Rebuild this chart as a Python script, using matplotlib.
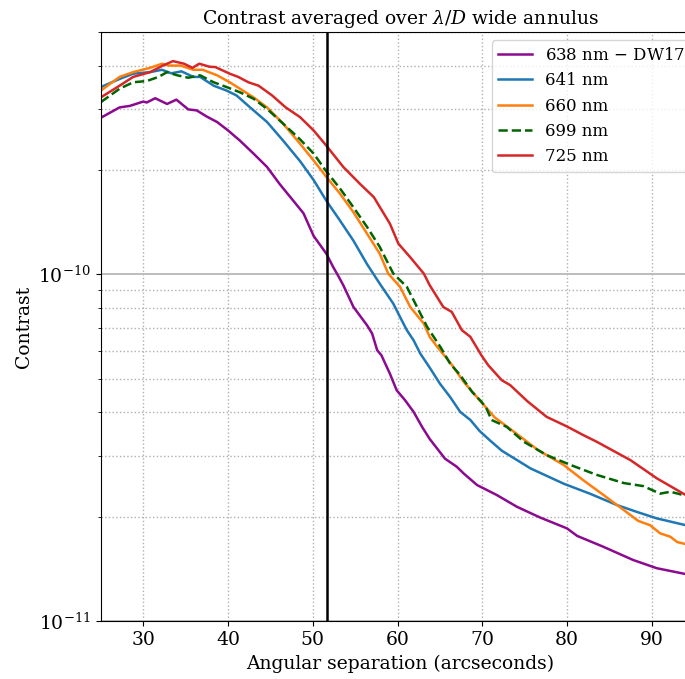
import matplotlib
matplotlib.use("Agg")
import matplotlib.pyplot as plt
import numpy as np

plt.rcParams['font.family'] = ['DejaVu Serif']
plt.rcParams['mathtext.fontset'] = 'dejavuserif'

# contrast curves (separation in arcsec, contrast in units of 1e-10)
sep_638 = [25.0, 27.2, 28.4, 30.0, 30.4, 31.4, 32.8, 33.9, 35.3, 36.3, 37.5, 38.7, 40.0,
           41.4, 43.0, 44.6, 46.1, 47.7, 48.9, 50.1, 51.6, 52.4, 53.0, 53.6, 54.8, 56.4,
           57.0, 57.6, 58.1, 59.1, 59.9, 60.9, 61.9, 62.9, 63.8, 65.6, 67.0, 67.8, 69.4,
           71.7, 74.1, 76.8, 80.0, 81.2, 84.3, 87.8, 90.6, 94.0]
con_638 = [2.83, 3.03, 3.06, 3.15, 3.13, 3.22, 3.10, 3.19, 2.99, 2.97, 2.85, 2.75, 2.60,
           2.43, 2.23, 2.04, 1.82, 1.63, 1.50, 1.29, 1.147, 1.05, 0.99, 0.93, 0.805, 0.713,
           0.675, 0.604, 0.584, 0.517, 0.463, 0.433, 0.401, 0.363, 0.335, 0.294, 0.2785,
           0.2665, 0.2466, 0.231, 0.2135, 0.199, 0.185, 0.176, 0.1637, 0.150, 0.142, 0.1366]

sep_641 = [25.0, 27.2, 28.8, 30.8, 32.2, 33.3, 34.5, 35.9, 36.7, 38.3, 39.8, 41.0, 42.6,
           44.6, 46.5, 48.5, 50.1, 51.6, 53.2, 54.8, 56.4, 57.9, 59.5, 60.3, 61.1, 61.9,
           62.7, 63.8, 65.0, 66.2, 67.4, 68.6, 69.7, 70.9, 72.3, 75.7, 79.6, 82.7, 85.9,
           88.2, 90.6, 94.0]
con_641 = [3.47, 3.66, 3.79, 3.83, 3.89, 3.80, 3.85, 3.71, 3.71, 3.50, 3.39, 3.28, 3.03,
           2.75, 2.43, 2.12, 1.87, 1.63, 1.43, 1.25, 1.07, 0.94, 0.823, 0.753, 0.69, 0.645,
           0.59, 0.538, 0.484, 0.443, 0.401, 0.38, 0.353, 0.332, 0.31, 0.2755, 0.249, 0.233,
           0.216, 0.2066, 0.1977, 0.189]

sep_660 = [25.0, 27.2, 28.8, 30.8, 32.2, 33.0, 34.4, 35.9, 37.0, 38.7, 40.2, 41.4, 43.0,
           44.6, 46.5, 48.5, 50.1, 51.6, 53.2, 54.8, 56.4, 57.9, 58.9, 60.3, 61.5, 63.1,
           63.8, 64.7, 66.3, 67.8, 69.7, 71.5, 73.5, 76.6, 79.6, 81.9, 84.3, 86.7, 88.4,
           89.8, 91.0, 92.2, 93.0, 94.0]
con_660 = [3.39, 3.71, 3.83, 3.94, 4.05, 4.00, 4.00, 3.89, 3.89, 3.75, 3.58, 3.43, 3.24,
           3.03, 2.72, 2.38, 2.13, 1.91, 1.71, 1.51, 1.31, 1.147, 1.005, 0.92, 0.805, 0.721,
           0.66, 0.617, 0.553, 0.49, 0.433, 0.386, 0.355, 0.311, 0.282, 0.255, 0.231, 0.209,
           0.1945, 0.189, 0.179, 0.175, 0.169, 0.1667]

sep_699 = [25.0, 27.2, 28.8, 30.4, 31.8, 32.8, 34.0, 35.3, 36.7, 38.3, 39.8, 41.4, 43.0,
           44.6, 46.5, 48.5, 50.1, 51.6, 53.2, 54.8, 56.4, 57.9, 59.5, 61.1, 62.3, 63.5,
           65.1, 66.2, 67.4, 68.8, 69.9, 70.5, 71.1, 72.9, 74.9, 77.6, 80.4, 83.5, 86.7,
           89.0, 91.0, 92.2, 94.0]
con_699 = [3.14, 3.43, 3.58, 3.61, 3.71, 3.83, 3.75, 3.69, 3.75, 3.58, 3.47, 3.35, 3.21,
           3.00, 2.72, 2.45, 2.23, 1.98, 1.77, 1.56, 1.37, 1.20, 1.005, 0.92, 0.805, 0.705,
           0.615, 0.553, 0.512, 0.458, 0.429, 0.41, 0.38, 0.363, 0.329, 0.301, 0.282, 0.264,
           0.250, 0.245, 0.233, 0.236, 0.230]

sep_725 = [25.0, 27.2, 28.8, 30.8, 32.3, 33.5, 34.8, 35.8, 36.6, 37.8, 38.5, 40.2, 41.2,
           42.4, 43.6, 45.2, 46.8, 48.5, 50.1, 51.6, 53.6, 55.6, 57.2, 59.1, 60.1, 61.5,
           63.1, 63.8, 65.4, 66.4, 67.6, 68.6, 69.9, 70.7, 72.3, 73.3, 75.3, 77.6, 80.0,
           81.9, 83.5, 87.5, 90.6, 94.0]
con_725 = [3.24, 3.50, 3.71, 3.83, 4.00, 4.12, 4.05, 3.94, 4.05, 3.97, 3.96, 3.79, 3.71,
           3.58, 3.50, 3.28, 3.03, 2.84, 2.60, 2.35, 2.04, 1.82, 1.67, 1.40, 1.226, 1.12,
           1.005, 0.93, 0.805, 0.779, 0.69, 0.66, 0.584, 0.547, 0.495, 0.479, 0.431, 0.388,
           0.364, 0.344, 0.329, 0.291, 0.258, 0.231]

labels = ['638 nm $-$ DW17', '641 nm', '660 nm', '699 nm', '725 nm']
iwa_sep = 51.7


fig = plt.figure(figsize=(6.85, 6.79), dpi=100)
# axes runs a bit past the right edge of the picture, as in the reference
ax = fig.add_axes([0.1474, 0.0854, 0.8745, 0.8675])

lw = 1.8
ax.plot(sep_638, np.array(con_638) * 1e-10, color='#8b0a8f', lw=lw, label=labels[0])
ax.plot(sep_641, np.array(con_641) * 1e-10, color='tab:blue', lw=lw, label=labels[1])
ax.plot(sep_660, np.array(con_660) * 1e-10, color='tab:orange', lw=lw, label=labels[2])
ax.plot(sep_699, np.array(con_699) * 1e-10, color='darkgreen', lw=lw, ls='--', label=labels[3])
ax.plot(sep_725, np.array(con_725) * 1e-10, color='tab:red', lw=lw, label=labels[4])

ax.axvline(iwa_sep, color='black', lw=1.8)

ax.set_yscale('log')
ax.set_xlim(25, 95.7)
ax.set_ylim(1e-11, 5e-10)

ax.grid(True, which='major', axis='x', ls=':', color='#b0b0b0', lw=1.0)
ax.grid(True, which='minor', axis='y', ls=':', color='#b0b0b0', lw=1.0)
ax.grid(True, which='major', axis='y', ls='-', color='#b8b8b8', lw=1.3)
ax.set_axisbelow(True)

ax.tick_params(axis='both', which='major', labelsize=13.5)
ax.tick_params(axis='y', which='minor', labelleft=False)

ax.set_title(r'Contrast averaged over $\lambda/D$ wide annulus', fontsize=13.5)
ax.set_xlabel('Angular separation (arcseconds)', fontsize=13.5)
ax.set_ylabel('Contrast', fontsize=13.5)

ax.legend(loc='upper right', fontsize=12)

fig.savefig('out.png', dpi=100)
